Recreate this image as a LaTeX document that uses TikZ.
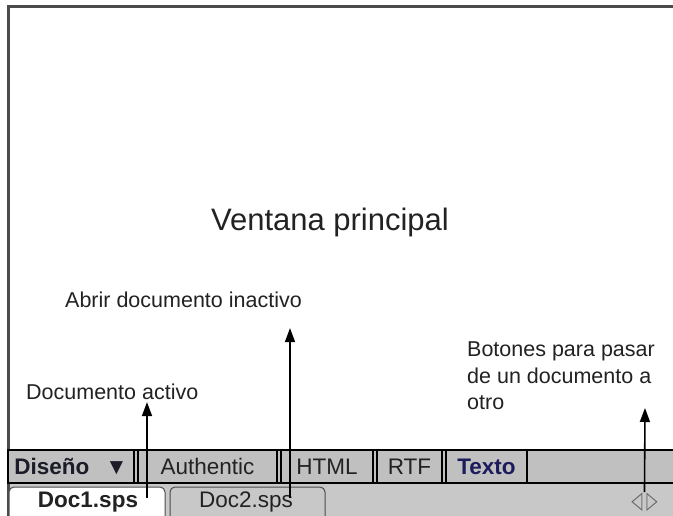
\documentclass[tikz,border=0pt]{standalone}
\usepackage{fontspec}
\setmainfont{Liberation Sans}
\newfontfamily\symfont{DejaVu Sans}
\usetikzlibrary{arrows.meta, positioning, calc}
\definecolor{barfill}{RGB}{192,192,192}
\definecolor{tabfill}{RGB}{200,200,200}
\definecolor{frameclr}{RGB}{75,75,75}
\definecolor{inkclr}{RGB}{34,34,34}
\definecolor{designclr}{RGB}{28,28,40}
\definecolor{textoclr}{RGB}{28,28,92}

\begin{document}
\begin{tikzpicture}[
    x=1pt, y=-1pt,
    note/.style={font=\fontsize{21.5}{26.5}\selectfont, text=inkclr, inner sep=2pt},
    viewbtn/.style={rectangle, draw=black, line width=1.2pt, fill=barfill, minimum height=33pt, inner sep=0pt, font=\fontsize{22.5}{27}\selectfont, text=inkclr},
    tablabel/.style={font=\fontsize{22.5}{27}\selectfont, text=inkclr, inner sep=0pt},
    tabshape/.style={draw=frameclr, line width=1pt, rounded corners=5pt},
    pointer/.style={line width=1.6pt, -{Triangle[length=14pt,width=10pt]}},
]
    \useasboundingbox[fill=white] (0,0) rectangle (673,516);

    \fill[barfill] (8,450) rectangle (673,483);
    \fill[tabfill] (8,483) rectangle (673,516);
    \draw[line width=1.2pt] (8,450) -- (673,450);
    \draw[line width=1.2pt] (8,483) -- (673,483);
    \draw[frameclr, line width=3pt] (8,522) -- (8,7) -- (680,7);

    \node[font=\fontsize{31}{36}\selectfont, text=inkclr] (mainwin) at (330,222) {Ventana principal};

    \node[viewbtn, minimum width=126pt, text=designclr] (design) at (71,466.5) {\textbf{Diseño}\hspace{16pt}▼};
    \node[viewbtn, minimum width=139pt] (authentic) at (207.5,466.5) {Authentic};
    \node[viewbtn, minimum width=92pt] (html) at (327,466.5) {HTML};
    \node[viewbtn, minimum width=65pt] (rtf) at (409.5,466.5) {RTF};
    \node[viewbtn, minimum width=81pt, text=textoclr] (texto) at (486.5,466.5) {\textbf{Texto}};

    \draw[tabshape, fill=white] (9,524) -- (9,487) -- (165,487) -- (165,524);
    \draw[tabshape, fill=tabfill] (170,524) -- (170,487) -- (325,487) -- (325,524);
    \node[tablabel] (doc1) at (88,502) {\textbf{Doc1.sps}};
    \node[tablabel] (doc2) at (246,502) {Doc2.sps};
    \node[font=\symfont\fontsize{24}{26}\selectfont, text=gray!75!black, inner sep=1pt] (navbtns) at (644.5,502.5) {\scalebox{0.6}[1]{◁}\kern4pt\scalebox{0.6}[1]{▷}};

    \node[note, anchor=west] (activelbl) at (24,392) {Documento activo};
    \node[note, anchor=west] (inactivelbl) at (63,300) {Abrir documento inactivo};
    \node[note, anchor=north west, align=left] (switchlbl) at (465,340) {Botones para pasar\\de un documento a\\otro};

    \coordinate (activefoot) at (147,498);
    \coordinate (inactivefoot) at (290,498);
    \coordinate (switchtip) at (645,408);
    \draw[pointer] (activefoot) -- (activefoot |- activelbl.south);
    \draw[pointer, shorten >=18pt] (inactivefoot) -- (inactivefoot |- inactivelbl.south);
    \draw[pointer] (navbtns.north) -- (switchtip);
\end{tikzpicture}
\end{document}
